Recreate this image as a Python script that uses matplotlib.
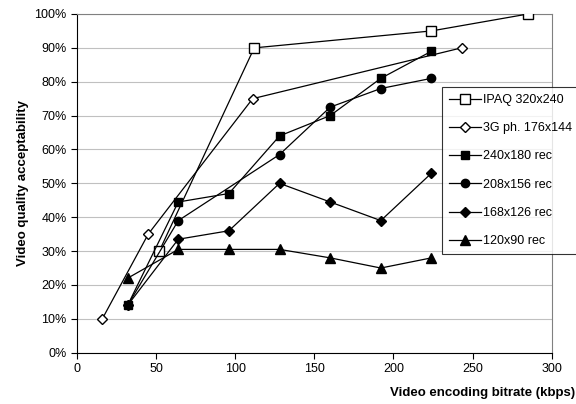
import matplotlib.pyplot as plt
from matplotlib.ticker import PercentFormatter

plt.rcParams['font.family'] = ['Liberation Sans', 'DejaVu Sans']

# bitrate (kbps) and acceptability (%) per series
ipaq_x = [52, 112, 224, 285]
ipaq_y = [30, 90, 95, 100]
g3_x = [16, 45, 111, 243]
g3_y = [10, 35, 75, 90]
r240_x = [32, 64, 96, 128, 160, 192, 224]
r240_y = [14, 44.5, 47, 64, 70, 81, 89]
r208_x = [32, 64, 128, 160, 192, 224]
r208_y = [14, 39, 58.5, 72.5, 78, 81]
r168_x = [32, 64, 96, 128, 160, 192, 224]
r168_y = [14, 33.5, 36, 50, 44.5, 39, 53]
r120_x = [32, 64, 96, 128, 160, 192, 224]
r120_y = [22, 30.5, 30.5, 30.5, 28, 25, 28]

fig = plt.figure(figsize=(5.76, 4.04), dpi=100)
ax = fig.add_axes([77 / 576, 1 - 352.7 / 404, 474.7 / 576, 338.7 / 404])

lw = 0.9
ax.plot(ipaq_x, ipaq_y, '-s', color='black', mfc='white', ms=7, lw=lw, label='IPAQ 320x240', zorder=3)
ax.plot(g3_x, g3_y, '-D', color='black', mfc='white', ms=5.5, lw=lw, label='3G ph. 176x144', zorder=3)
ax.plot(r240_x, r240_y, '-s', color='black', ms=5.5, lw=lw, label='240x180 rec', zorder=3)
ax.plot(r208_x, r208_y, '-o', color='black', ms=6, lw=lw, label='208x156 rec', zorder=3)
ax.plot(r168_x, r168_y, '-D', color='black', ms=5.5, lw=lw, label='168x126 rec', zorder=3)
ax.plot(r120_x, r120_y, '-^', color='black', ms=6.5, lw=lw, label='120x90 rec', zorder=3)

ax.set_xlim(0, 300)
ax.set_ylim(0, 100)
ax.set_xticks(range(0, 301, 50))
ax.set_yticks(range(0, 101, 10))
ax.yaxis.set_major_formatter(PercentFormatter(decimals=0))
ax.grid(axis='y', color='#c0c0c0', lw=0.8)
ax.set_axisbelow(True)
ax.tick_params(labelsize=9, length=4, direction='out', color='black')
for s in ['top', 'right']:
    ax.spines[s].set_color('#808080')
for s in ['left', 'bottom']:
    ax.spines[s].set_color('black')

ax.set_ylabel('Video quality acceptability', fontsize=9.5, fontweight='bold')
fig.text(0.998, 1 - 393 / 404, 'Video encoding bitrate (kbps)', fontsize=9.5,
         fontweight='bold', ha='right', va='center')

leg = ax.legend(loc='upper left', bbox_to_anchor=(442 / 576, 1 - 87 / 404),
                bbox_transform=fig.transFigure, frameon=True, fancybox=False,
                edgecolor='black', fontsize=9, handlelength=2.6, labelspacing=1.3,
                borderpad=0.55, handletextpad=0.1, borderaxespad=0)
leg.get_frame().set_linewidth(0.8)

fig.savefig('out.png', dpi=100)
